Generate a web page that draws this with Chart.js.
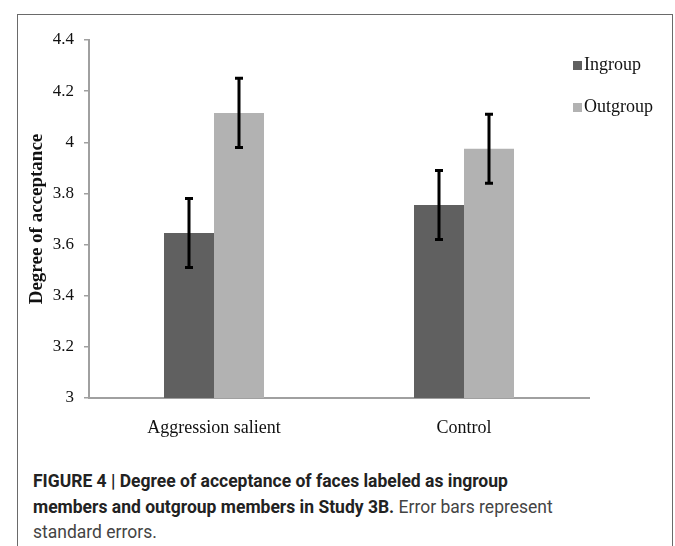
<!DOCTYPE html>
<html>
<head>
<meta charset="utf-8">
<script src="https://cdn.jsdelivr.net/npm/chart.js@4/dist/chart.umd.min.js"></script>
<style>
  html, body { margin: 0; padding: 0; background: #fff; }
  #wrap { position: relative; width: 675px; height: 546px; overflow: hidden; }
  #frame { position: absolute; left: 17px; top: 14px; width: 656px; height: 600px; border: 1px solid #6a6a6a; box-sizing: border-box; }
  #chart { position: absolute; left: 0; top: 0; }
  #caption { position: absolute; left: 33px; top: 469px; width: 620px; white-space: nowrap; font-family: Roboto, "Liberation Sans", sans-serif; font-size: 17.5px; line-height: 25.5px; color: #444; }
  #caption b { color: #222; }
</style>
</head>
<body>
<div id="wrap">
  <div id="frame"></div>
  <canvas id="chart" width="675" height="460"></canvas>
  <div id="caption"><b>FIGURE 4 | Degree of acceptance of faces labeled as ingroup<br>members and outgroup members in Study 3B.</b> Error bars represent<br>standard errors.</div>
</div>
<script>
// datos
const categorias = ['Aggression salient', 'Control'];
const ingroup = [3.645, 3.755];
const outgroup = [4.115, 3.975];
const ingroupBajo = [3.51, 3.62];
const ingroupAlto = [3.78, 3.89];
const outgroupBajo = [3.98, 3.84];
const outgroupAlto = [4.25, 4.11];
const ticksY = [3, 3.2, 3.4, 3.6, 3.8, 4, 4.2, 4.4];

const serif = '"Liberation Serif", "Times New Roman", serif';

// barras de error (dibujadas con la escala del gráfico)
const errorBars = {
    id: 'errorBars',
    afterDatasetsDraw(chart) {
        const ctx = chart.ctx;
        const y = chart.scales.y;
        chart.data.datasets.forEach((ds, i) => {
            const meta = chart.getDatasetMeta(i);
            meta.data.forEach((bar, j) => {
                const yLo = y.getPixelForValue(ds.errLow[j]);
                const yHi = y.getPixelForValue(ds.errHigh[j]);
                ctx.save();
                ctx.strokeStyle = '#000';
                ctx.lineWidth = 3;
                ctx.beginPath();
                ctx.moveTo(bar.x, yLo);
                ctx.lineTo(bar.x, yHi);
                ctx.moveTo(bar.x - 4, yLo);
                ctx.lineTo(bar.x + 4, yLo);
                ctx.moveTo(bar.x - 4, yHi);
                ctx.lineTo(bar.x + 4, yHi);
                ctx.stroke();
                ctx.restore();
            });
        });
    }
};

// leyenda propia (va dentro del área del gráfico)
const leyenda = {
    id: 'leyenda',
    afterDraw(chart) {
        const ctx = chart.ctx;
        ctx.save();
        ctx.font = '18px ' + serif;
        ctx.textBaseline = 'middle';
        chart.data.datasets.forEach((ds, i) => {
            const yc = 65 + i * 42;
            ctx.fillStyle = ds.backgroundColor;
            ctx.fillRect(573, yc - 4, 9, 9);
            ctx.fillStyle = '#111';
            ctx.fillText(ds.label, 584, yc);
        });
        ctx.restore();
    }
};

new Chart(document.getElementById('chart'), {
    type: 'bar',
    data: {
        labels: categorias,
        datasets: [
            { label: 'Ingroup', data: ingroup, errLow: ingroupBajo, errHigh: ingroupAlto, backgroundColor: '#606060' },
            { label: 'Outgroup', data: outgroup, errLow: outgroupBajo, errHigh: outgroupAlto, backgroundColor: '#b2b2b2' }
        ]
    },
    options: {
        responsive: false,
        animation: false,
        maintainAspectRatio: false,
        layout: { autoPadding: false, padding: { top: 40, right: 86, left: 0, bottom: 0 } },
        datasets: { bar: { barPercentage: 1, categoryPercentage: 0.4 } },
        plugins: { legend: { display: false }, tooltip: { enabled: false } },
        scales: {
            x: {
                grid: { display: false },
                border: { color: '#a0a0a0', width: 2 },
                ticks: { color: '#111', padding: 11, font: { family: serif, size: 18 } },
                afterFit: s => { s.height = 62; }
            },
            y: {
                min: 3, max: 4.4,
                afterBuildTicks: s => { s.ticks = ticksY.map(v => ({ value: v })); },
                grid: { drawOnChartArea: false, tickLength: 5, color: '#a0a0a0', lineWidth: 1.5 },
                border: { color: '#a0a0a0', width: 2 },
                ticks: { color: '#111', padding: 10, font: { family: serif, size: 17 }, callback: v => String(Number(v.toFixed(1))) },
                title: { display: true, text: 'Degree of acceptance', color: '#111', font: { family: serif, size: 19, weight: 'bold' }, padding: { top: 26, bottom: 0 } },
                afterFit: s => { s.width = 89; }
            }
        }
    },
    plugins: [errorBars, leyenda]
});
</script>
</body>
</html>
